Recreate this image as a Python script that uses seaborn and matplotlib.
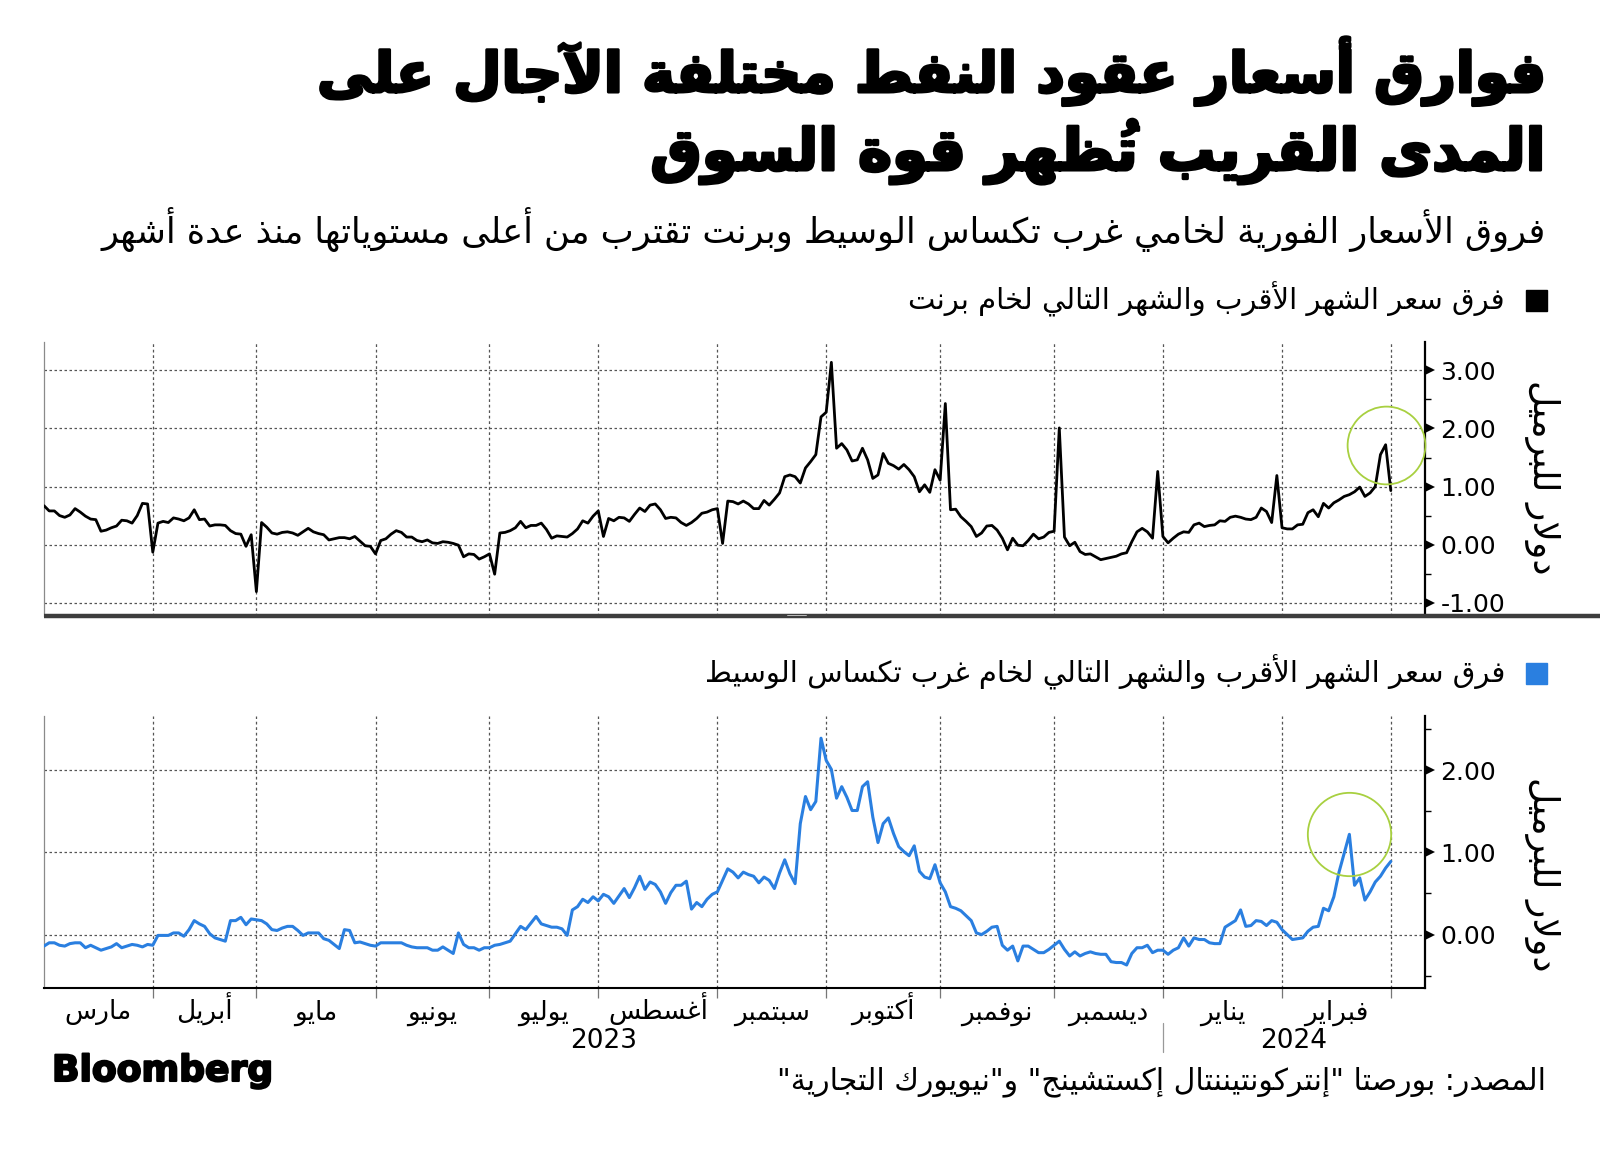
import numpy as np
import pandas as pd
import matplotlib
matplotlib.use("Agg")
import matplotlib.pyplot as plt
import matplotlib.transforms as mtransforms
import matplotlib.patheffects as pe
from matplotlib.lines import Line2D
from matplotlib.patches import Rectangle
import seaborn as sns

# ---------------- data ----------------
start_date = "2023-03-03"

brent_spread = [
    0.67, 0.58, 0.58, 0.50, 0.47, 0.51, 0.62, 0.56, 0.49, 0.44,
    0.43, 0.23, 0.25, 0.29, 0.32, 0.42, 0.41, 0.37, 0.50, 0.71,
    0.70, -0.13, 0.37, 0.40, 0.38, 0.46, 0.44, 0.41, 0.46, 0.60,
    0.43, 0.44, 0.32, 0.34, 0.34, 0.33, 0.24, 0.19, 0.18, -0.03,
    0.17, -0.81, 0.38, 0.30, 0.20, 0.18, 0.21, 0.22, 0.20, 0.16,
    0.22, 0.28, 0.22, 0.19, 0.17, 0.08, 0.10, 0.12, 0.12, 0.10,
    0.14, 0.06, -0.02, -0.03, -0.16, 0.07, 0.10, 0.18, 0.24, 0.21,
    0.13, 0.13, 0.07, 0.05, 0.08, 0.03, 0.02, 0.05, 0.04, 0.02,
    -0.01, -0.21, -0.16, -0.17, -0.25, -0.21, -0.16, -0.51, 0.20, 0.21,
    0.24, 0.29, 0.40, 0.29, 0.33, 0.33, 0.37, 0.26, 0.11, 0.15,
    0.14, 0.13, 0.19, 0.27, 0.41, 0.37, 0.49, 0.58, 0.14, 0.45,
    0.41, 0.47, 0.46, 0.40, 0.52, 0.63, 0.57, 0.68, 0.70, 0.60,
    0.45, 0.47, 0.46, 0.38, 0.33, 0.38, 0.45, 0.54, 0.56, 0.60,
    0.62, 0.02, 0.75, 0.74, 0.70, 0.75, 0.70, 0.62, 0.62, 0.76,
    0.68, 0.78, 0.89, 1.17, 1.20, 1.17, 1.06, 1.32, 1.43, 1.55,
    2.20, 2.28, 3.14, 1.66, 1.74, 1.63, 1.44, 1.46, 1.66, 1.46,
    1.14, 1.20, 1.57, 1.40, 1.36, 1.30, 1.38, 1.29, 1.17, 0.91,
    1.03, 0.90, 1.29, 1.11, 2.43, 0.60, 0.61, 0.48, 0.40, 0.31,
    0.14, 0.20, 0.32, 0.33, 0.25, 0.11, -0.09, 0.11, -0.01, -0.02,
    0.07, 0.18, 0.10, 0.13, 0.21, 0.23, 2.01, 0.13, -0.02, 0.04,
    -0.12, -0.17, -0.16, -0.21, -0.26, -0.24, -0.22, -0.20, -0.16, -0.14,
    0.05, 0.22, 0.28, 0.22, 0.11, 1.26, 0.14, 0.03, 0.11, 0.18,
    0.22, 0.21, 0.34, 0.37, 0.31, 0.33, 0.34, 0.41, 0.40, 0.47,
    0.49, 0.47, 0.44, 0.43, 0.47, 0.63, 0.57, 0.38, 1.19, 0.29,
    0.27, 0.27, 0.34, 0.35, 0.55, 0.60, 0.48, 0.71, 0.63, 0.72,
    0.77, 0.83, 0.86, 0.91, 0.99, 0.83, 0.89, 1.00, 1.55, 1.72,
    0.93,
]

wti_spread = [
    -0.14, -0.10, -0.10, -0.13, -0.14, -0.11, -0.10, -0.10, -0.16, -0.13,
    -0.16, -0.19, -0.17, -0.15, -0.11, -0.16, -0.14, -0.12, -0.13, -0.15,
    -0.12, -0.13, -0.01, -0.01, -0.01, 0.02, 0.02, -0.02, 0.06, 0.17,
    0.13, 0.10, 0.01, -0.04, -0.06, -0.08, 0.17, 0.17, 0.21, 0.12,
    0.19, 0.18, 0.17, 0.13, 0.06, 0.05, 0.08, 0.10, 0.10, 0.05,
    -0.01, 0.02, 0.02, 0.02, -0.05, -0.07, -0.12, -0.17, 0.06, 0.05,
    -0.10, -0.09, -0.11, -0.13, -0.14, -0.10, -0.10, -0.10, -0.10, -0.10,
    -0.13, -0.15, -0.16, -0.16, -0.16, -0.19, -0.19, -0.15, -0.19, -0.23,
    0.02, -0.12, -0.16, -0.16, -0.19, -0.16, -0.16, -0.13, -0.12, -0.10,
    -0.08, 0.01, 0.10, 0.06, 0.14, 0.22, 0.13, 0.11, 0.09, 0.09,
    0.07, -0.01, 0.30, 0.34, 0.43, 0.39, 0.46, 0.41, 0.49, 0.46,
    0.38, 0.47, 0.56, 0.45, 0.57, 0.71, 0.55, 0.64, 0.61, 0.52,
    0.38, 0.51, 0.60, 0.60, 0.65, 0.31, 0.39, 0.34, 0.43, 0.49,
    0.52, 0.66, 0.80, 0.76, 0.69, 0.76, 0.73, 0.71, 0.63, 0.70,
    0.66, 0.56, 0.75, 0.91, 0.74, 0.62, 1.35, 1.68, 1.52, 1.62,
    2.39, 2.12, 2.01, 1.66, 1.80, 1.67, 1.51, 1.51, 1.80, 1.86,
    1.43, 1.12, 1.35, 1.42, 1.23, 1.07, 1.01, 0.96, 1.08, 0.77,
    0.70, 0.68, 0.85, 0.63, 0.52, 0.34, 0.32, 0.29, 0.23, 0.17,
    0.02, 0.00, 0.04, 0.09, 0.10, -0.13, -0.19, -0.14, -0.32, -0.14,
    -0.14, -0.18, -0.22, -0.22, -0.18, -0.13, -0.08, -0.18, -0.26, -0.21,
    -0.26, -0.23, -0.21, -0.23, -0.24, -0.24, -0.33, -0.34, -0.34, -0.37,
    -0.23, -0.16, -0.16, -0.13, -0.22, -0.19, -0.19, -0.24, -0.19, -0.16,
    -0.04, -0.14, -0.04, -0.06, -0.06, -0.10, -0.11, -0.11, 0.09, 0.13,
    0.17, 0.30, 0.10, 0.11, 0.17, 0.16, 0.11, 0.17, 0.15, 0.06,
    0.00, -0.06, -0.05, -0.04, 0.04, 0.09, 0.10, 0.32, 0.29, 0.46,
    0.76, 0.99, 1.22, 0.60, 0.69, 0.42, 0.52, 0.64, 0.71, 0.81,
    0.89,
]

month_labels = ["مارس", "أبريل", "مايو", "يونيو", "يوليو", "أغسطس",
                "سبتمبر", "أكتوبر", "نوفمبر", "ديسمبر", "يناير", "فبراير"]
year_labels = ["2023", "2024"]
top_yticks = [-1, 0, 1, 2, 3]
bottom_yticks = [0, 1, 2]

title_lines = ["فوارق أسعار عقود النفط مختلفة الآجال على",
               "المدى القريب تُظهر قوة السوق"]
subtitle = "فروق الأسعار الفورية لخامي غرب تكساس الوسيط وبرنت تقترب من أعلى مستوياتها منذ عدة أشهر"
legend_brent = "فرق سعر الشهر الأقرب والشهر التالي لخام برنت"
legend_wti = "فرق سعر الشهر الأقرب والشهر التالي لخام غرب تكساس الوسيط"
y_unit = "دولار للبرميل"
source_text = 'المصدر: بورصتا "إنتركونتيننتال إكستشينج" و"نيويورك التجارية"'
brand = "Bloomberg"

# ---------------- minimal Arabic shaping (presentation forms + visual order) ----------------
_FORMS = {
    0x0621: (0xFE80, None, None, None), 0x0622: (0xFE81, 0xFE82, None, None),
    0x0623: (0xFE83, 0xFE84, None, None), 0x0624: (0xFE85, 0xFE86, None, None),
    0x0625: (0xFE87, 0xFE88, None, None), 0x0626: (0xFE89, 0xFE8A, 0xFE8B, 0xFE8C),
    0x0627: (0xFE8D, 0xFE8E, None, None), 0x0628: (0xFE8F, 0xFE90, 0xFE91, 0xFE92),
    0x0629: (0xFE93, 0xFE94, None, None), 0x062A: (0xFE95, 0xFE96, 0xFE97, 0xFE98),
    0x062B: (0xFE99, 0xFE9A, 0xFE9B, 0xFE9C), 0x062C: (0xFE9D, 0xFE9E, 0xFE9F, 0xFEA0),
    0x062D: (0xFEA1, 0xFEA2, 0xFEA3, 0xFEA4), 0x062E: (0xFEA5, 0xFEA6, 0xFEA7, 0xFEA8),
    0x062F: (0xFEA9, 0xFEAA, None, None), 0x0630: (0xFEAB, 0xFEAC, None, None),
    0x0631: (0xFEAD, 0xFEAE, None, None), 0x0632: (0xFEAF, 0xFEB0, None, None),
    0x0633: (0xFEB1, 0xFEB2, 0xFEB3, 0xFEB4), 0x0634: (0xFEB5, 0xFEB6, 0xFEB7, 0xFEB8),
    0x0635: (0xFEB9, 0xFEBA, 0xFEBB, 0xFEBC), 0x0636: (0xFEBD, 0xFEBE, 0xFEBF, 0xFEC0),
    0x0637: (0xFEC1, 0xFEC2, 0xFEC3, 0xFEC4), 0x0638: (0xFEC5, 0xFEC6, 0xFEC7, 0xFEC8),
    0x0639: (0xFEC9, 0xFECA, 0xFECB, 0xFECC), 0x063A: (0xFECD, 0xFECE, 0xFECF, 0xFED0),
    0x0641: (0xFED1, 0xFED2, 0xFED3, 0xFED4), 0x0642: (0xFED5, 0xFED6, 0xFED7, 0xFED8),
    0x0643: (0xFED9, 0xFEDA, 0xFEDB, 0xFEDC), 0x0644: (0xFEDD, 0xFEDE, 0xFEDF, 0xFEE0),
    0x0645: (0xFEE1, 0xFEE2, 0xFEE3, 0xFEE4), 0x0646: (0xFEE5, 0xFEE6, 0xFEE7, 0xFEE8),
    0x0647: (0xFEE9, 0xFEEA, 0xFEEB, 0xFEEC), 0x0648: (0xFEED, 0xFEEE, None, None),
    0x0649: (0xFEEF, 0xFEF0, None, None), 0x064A: (0xFEF1, 0xFEF2, 0xFEF3, 0xFEF4),
}
_LAMALEF = {0x0622: (0xFEF5, 0xFEF6), 0x0623: (0xFEF7, 0xFEF8),
            0x0625: (0xFEF9, 0xFEFA), 0x0627: (0xFEFB, 0xFEFC)}


def _is_mark(c):
    o = ord(c)
    return 0x064B <= o <= 0x065F or o == 0x0670


def ar(text):
    chars = list(text)
    n = len(chars)
    clusters = []
    prev_joins = False
    k = 0
    while k < n:
        c = chars[k]
        o = ord(c)
        if _is_mark(c):
            if clusters:
                clusters[-1] += c
            else:
                clusters.append(c)
            k += 1
            continue
        if o not in _FORMS:
            clusters.append(c)
            prev_joins = False
            k += 1
            continue
        j = k + 1
        while j < n and _is_mark(chars[j]):
            j += 1
        nxt = chars[j] if j < n else None
        if o == 0x0644 and nxt is not None and ord(nxt) in _LAMALEF:
            iso, fin = _LAMALEF[ord(nxt)]
            clusters.append(chr(fin if prev_joins else iso) + "".join(chars[k + 1:j]))
            prev_joins = False
            k = j + 1
            continue
        forms = _FORMS[o]
        next_joins = nxt is not None and ord(nxt) in _FORMS and ord(nxt) != 0x0621
        can_left = forms[2] is not None
        if prev_joins and next_joins and can_left:
            g = forms[3]
        elif prev_joins:
            g = forms[1] if forms[1] else forms[0]
        elif next_joins and can_left:
            g = forms[2]
        else:
            g = forms[0]
        clusters.append(chr(g))
        prev_joins = can_left
        k += 1
    # visual order: reverse, keeping LTR runs (digits / latin) intact
    tokens = []
    run = ""
    for cl in clusters:
        if cl[0].isascii() and cl[0].isalnum():
            run += cl
        else:
            if run:
                tokens.append(run)
                run = ""
            tokens.append(cl[::-1])  # combining marks drawn before their base
    if run:
        tokens.append(run)
    return "".join(reversed(tokens))


# ---------------- style ----------------
sns.set_style("white")
plt.rcParams["font.family"] = ["DejaVu Sans"]
plt.rcParams["axes.unicode_minus"] = False

W, H = 1600, 1153
fig = plt.figure(figsize=(W / 100, H / 100), dpi=100)
fig.patch.set_facecolor("white")


def fx(px):
    return px / W


def fy(py):
    return 1 - py / H


BLUE = "#2a7fe0"
GREEN = "#a8d040"
GRID = "#555555"

N = len(brent_spread)
x_idx = np.arange(N)
dates = pd.bdate_range(start_date, periods=N)
boundaries = [i for i in range(1, N) if dates[i].month != dates[i - 1].month]
x_max = 266.6
edges = [0] + boundaries

ax_l, ax_r = 44, 1425
ax1 = fig.add_axes([fx(ax_l), fy(616), fx(ax_r - ax_l), (616 - 342) / H])
ax2 = fig.add_axes([fx(ax_l), fy(988), fx(ax_r - ax_l), (988 - 716) / H])

sns.lineplot(x=x_idx, y=brent_spread, ax=ax1, color="black", lw=2.0, zorder=3)
sns.lineplot(x=x_idx, y=wti_spread, ax=ax2, color=BLUE, lw=2.2, zorder=3)

for ax, lims, ticks in ((ax1, (-1.23, 3.49), top_yticks), (ax2, (-0.65, 2.66), bottom_yticks)):
    ax.set_xlabel("")
    ax.set_ylabel("")
    ax.yaxis.tick_right()
    ax.set_yticks(ticks)
    ax.set_yticklabels([f"{t:.2f}" for t in ticks])
    ax.set_yticks(np.arange(-1.5, 3.6, 0.5), minor=True)
    ax.set_xlim(0, x_max)
    ax.set_ylim(*lims)
    ax.tick_params(axis="y", which="major", length=0, pad=11, labelsize=18,
                   labelcolor="black", right=True, left=False)
    ax.tick_params(axis="y", which="minor", length=4.5, width=1.0, color="black",
                   direction="out", right=True, left=False)
    ax.spines["top"].set_visible(False)
    ax.spines["left"].set_color("#8a8a8a")
    ax.spines["left"].set_linewidth(0.9)
    ax.spines["right"].set_color("black")
    ax.spines["right"].set_linewidth(1.6)
    for t in ticks:
        ax.axhline(t, color=GRID, lw=0.9, ls=(0, (2, 2)), zorder=1)
    for b in boundaries:
        ax.axvline(b, color=GRID, lw=0.9, ls=(0, (2.2, 2.2)), zorder=1)
    # arrow-shaped major ticks, pointing right from the spine
    arrow_tr = ax.get_yaxis_transform() + mtransforms.ScaledTranslation(3.6 / 72, 0, fig.dpi_scale_trans)
    ax.add_line(Line2D([1.0] * len(ticks), ticks, ls="none", marker=">", markersize=7.2,
                       markerfacecolor="black", markeredgecolor="black", markeredgewidth=0,
                       transform=arrow_tr, clip_on=False, zorder=6))

# top panel x-axis: none
ax1.set_xticks([])
ax1.spines["bottom"].set_visible(False)

# bottom panel x-axis
ax2.spines["bottom"].set_color("black")
ax2.spines["bottom"].set_linewidth(1.5)
ax2.set_xticks(boundaries)
ax2.set_xticklabels([])
ax2.set_xlim(0, x_max)
ax2.tick_params(axis="x", which="major", length=7, width=0.9, color="#777777",
                direction="out", bottom=True)
mids = [(a + b) / 2 for a, b in zip(edges, boundaries)]
trans2 = mtransforms.blended_transform_factory(ax2.transData, ax2.transAxes)
for m, lab in zip(mids, month_labels):
    ax2.text(m, -0.115, ar(lab), transform=trans2, ha="center", va="baseline",
             fontsize=19, color="black")
jan_idx = [b for b in boundaries if dates[b].month == 1][0]
year_centres = [jan_idx / 2, (jan_idx + x_max) / 2]
for c, lab in zip(year_centres, year_labels):
    ax2.text(c, -0.222, lab, transform=trans2, ha="center", va="baseline",
             fontsize=19, color="black")
ax2.add_line(Line2D([jan_idx, jan_idx], [-0.13, -0.235], transform=trans2,
                    color="#999999", lw=0.9, clip_on=False))

# highlight circles around the latest peaks
b_tail = len(brent_spread) - 10 + int(np.argmax(brent_spread[-10:]))
w_tail = len(wti_spread) - 15 + int(np.argmax(wti_spread[-15:]))
ax1.plot([b_tail], [brent_spread[b_tail]], marker="o", markersize=56, mfc="none",
         mec=GREEN, mew=1.3, ls="none", zorder=4, clip_on=False)
ax2.plot([w_tail], [wti_spread[w_tail]], marker="o", markersize=60, mfc="none",
         mec=GREEN, mew=1.3, ls="none", zorder=4, clip_on=False)
ax1.set_xlim(0, x_max)
ax2.set_xlim(0, x_max)

# separator bar under the top panel
fig.add_artist(Line2D([fx(44), 1.0], [fy(616), fy(616)], color="#3d3d3d", lw=3.2,
                      transform=fig.transFigure, solid_capstyle="butt"))
fig.add_artist(Line2D([fx(787), fx(806)], [fy(615), fy(615)], color="#d0d0d0", lw=0.6,
                      transform=fig.transFigure))
fig.add_artist(Line2D([fx(787), fx(806)], [fy(617.5), fy(617.5)], color="#d0d0d0", lw=0.6,
                      transform=fig.transFigure))

# y unit labels
for yc in (477, 874):
    fig.text(fx(1542), fy(yc), ar(y_unit), rotation=270, ha="center", va="center",
             fontsize=26, color="black")

# ---------------- texts ----------------
thick = [pe.withStroke(linewidth=2.2, foreground="black")]
fig.text(fx(1546), fy(92), ar(title_lines[0]), ha="right", va="baseline",
         fontsize=40, fontweight="bold", color="black", path_effects=thick)
fig.text(fx(1546), fy(170), ar(title_lines[1]), ha="right", va="baseline",
         fontsize=41.5, fontweight="bold", color="black", path_effects=thick)
fig.text(fx(1546), fy(243), ar(subtitle), ha="right", va="baseline",
         fontsize=25.3, color="black")

fig.add_artist(Rectangle((fx(1526), fy(311)), fx(21), 21 / H, color="black",
                         transform=fig.transFigure))
fig.text(fx(1505), fy(309), ar(legend_brent), ha="right", va="baseline",
         fontsize=21, color="black")
fig.add_artist(Rectangle((fx(1526), fy(684)), fx(21), 21 / H, color=BLUE,
                         transform=fig.transFigure))
fig.text(fx(1505), fy(682), ar(legend_wti), ha="right", va="baseline",
         fontsize=21, color="black")

fig.text(fx(1546), fy(1089), ar(source_text), ha="right", va="baseline",
         fontsize=21.5, color="black")
fig.text(fx(52), fy(1081), brand, ha="left", va="baseline", fontsize=26,
         fontweight="bold", color="black",
         path_effects=[pe.withStroke(linewidth=1.5, foreground="black")])

fig.savefig("out.png", dpi=100, facecolor="white")
